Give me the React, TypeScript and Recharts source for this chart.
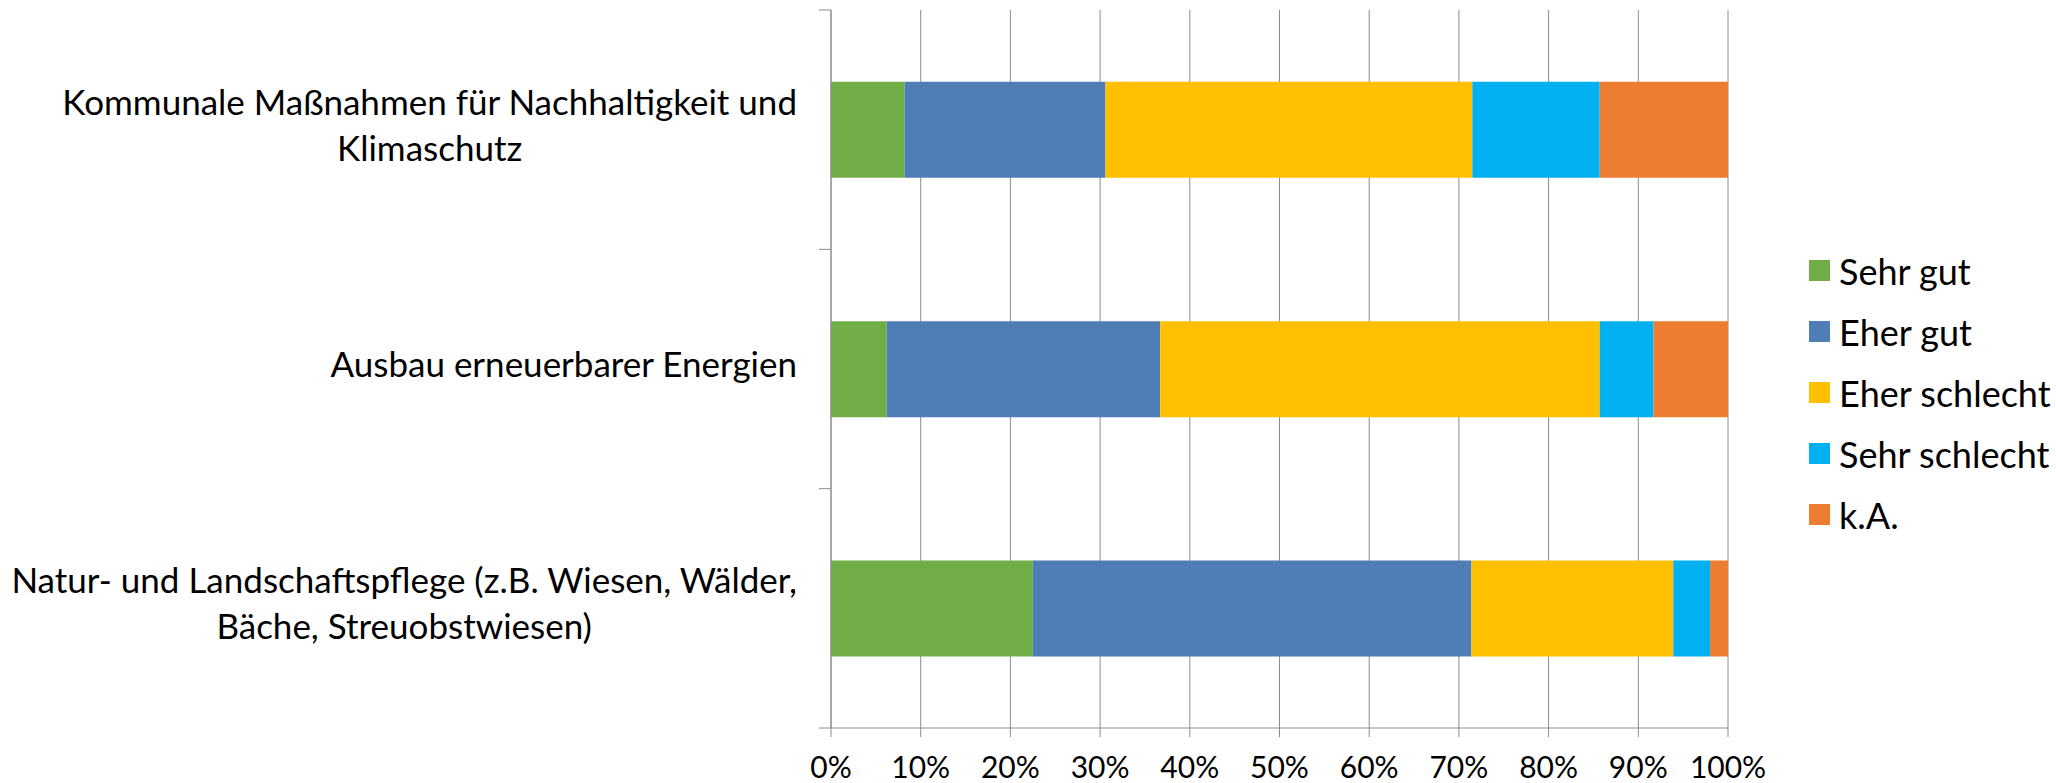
import React, { useLayoutEffect, useRef, useState } from "react";
import { BarChart, Bar, XAxis, YAxis, CartesianGrid, Legend } from "recharts";

// categories, top to bottom (\n = line break as in the original labels)
const categories = [
  "Kommunale Maßnahmen für Nachhaltigkeit und\nKlimaschutz",
  "Ausbau erneuerbarer Energien",
  "Natur- und Landschaftspflege (z.B. Wiesen, Wälder,\nBäche, Streuobstwiesen)",
];

// shares in percent, one value per category
const sehrGut = [8.2, 6.2, 22.5];
const eherGut = [22.4, 30.5, 48.9];
const eherSchlecht = [40.9, 49.0, 22.5];
const sehrSchlecht = [14.2, 6.0, 4.1];
const keineAngabe = [14.3, 8.3, 2.0];

const seriesNames = ["Sehr gut", "Eher gut", "Eher schlecht", "Sehr schlecht", "k.A."];
const seriesKeys = ["sehrGut", "eherGut", "eherSchlecht", "sehrSchlecht", "keineAngabe"];
const xTicks = [0, 10, 20, 30, 40, 50, 60, 70, 80, 90, 100];

const colors = ["#70AD47", "#4F7DB5", "#FFC000", "#00B0F0", "#ED7D31"];

const data = categories.map((name, i) => ({
  name,
  sehrGut: sehrGut[i],
  eherGut: eherGut[i],
  eherSchlecht: eherSchlecht[i],
  sehrSchlecht: sehrSchlecht[i],
  keineAngabe: keineAngabe[i],
}));

const WIDTH = 2056;
const HEIGHT = 783;
const MARGIN = { top: 10, right: 328, bottom: 0, left: 0 };
const X_AXIS_HEIGHT = 55;
const Y_AXIS_WIDTH = 831;
const BAND = (HEIGHT - MARGIN.top - MARGIN.bottom - X_AXIS_HEIGHT) / categories.length;
const AXIS_COLOR = "#8C8C8C";
const FONT = "Lato, 'Open Sans', sans-serif";

// category label: block right-aligned next to the axis, lines centred in it,
// plus Excel-style tick marks between categories
const CategoryTick = (props: any) => {
  const { x, y, payload, index } = props;
  const ref = useRef<SVGTextElement>(null);
  const [w, setW] = useState(0);
  useLayoutEffect(() => {
    if (ref.current) setW(ref.current.getBBox().width);
  }, [payload.value]);
  const lines = String(payload.value).split("\n");
  const lineH = 46;
  const cx = x - 34 - w / 2;
  const first = -((lines.length - 1) * lineH) / 2 + 8;
  return (
    <g>
      <line x1={x - 12} x2={x} y1={y - BAND / 2} y2={y - BAND / 2} stroke={AXIS_COLOR} />
      {index === categories.length - 1 && (
        <line x1={x - 12} x2={x} y1={y + BAND / 2} y2={y + BAND / 2} stroke={AXIS_COLOR} />
      )}
      <text ref={ref} textAnchor="middle" fontSize={35} fill="#000">
        {lines.map((l, i) => (
          <tspan key={i} x={cx} y={y + first + i * lineH}>
            {l}
          </tspan>
        ))}
      </text>
    </g>
  );
};

// legend in series order (Recharts would sort it by name)
const renderLegend = (props: any) => {
  const items = [...props.payload].sort(
    (a: any, b: any) => seriesNames.indexOf(a.value) - seriesNames.indexOf(b.value)
  );
  return (
    <div style={{ display: "flex", flexDirection: "column", fontFamily: FONT }}>
      {items.map((entry: any) => (
        <div key={entry.value} style={{ height: 61, display: "flex", alignItems: "center" }}>
          <span style={{ width: 21, height: 21, background: entry.color, marginRight: 9, display: "inline-block" }} />
          <span style={{ fontSize: 36, color: "#000" }}>{entry.value}</span>
        </div>
      ))}
    </div>
  );
};

const App: React.FC = () => {
  return (
    <div style={{ position: "absolute", left: 0, top: 0, fontFamily: FONT, background: "#fff" }}>
      <BarChart
        width={WIDTH}
        height={HEIGHT}
        data={data}
        layout="vertical"
        margin={MARGIN}
        barCategoryGap="30%"
      >
        <CartesianGrid horizontal={false} stroke={AXIS_COLOR} />
        <XAxis
          type="number"
          domain={[0, 100]}
          ticks={xTicks}
          interval={0}
          tickFormatter={(v) => `${v}%`}
          height={X_AXIS_HEIGHT}
          stroke={AXIS_COLOR}
          tickSize={9}
          tickMargin={20}
          tick={{ fill: "#000", fontSize: 30 }}
        />
        <YAxis
          type="category"
          dataKey="name"
          width={Y_AXIS_WIDTH}
          stroke={AXIS_COLOR}
          tickLine={false}
          tickSize={0}
          tickMargin={0}
          interval={0}
          tick={<CategoryTick />}
        />
        {seriesKeys.map((key, i) => (
          <Bar key={key} dataKey={key} name={seriesNames[i]} stackId="a" fill={colors[i]} isAnimationActive={false} />
        ))}
        <Legend
          layout="vertical"
          align="center"
          verticalAlign="middle"
          content={renderLegend}
          wrapperStyle={{ left: 1809, top: 240, width: "auto" }}
        />
      </BarChart>
    </div>
  );
};

export default App;
